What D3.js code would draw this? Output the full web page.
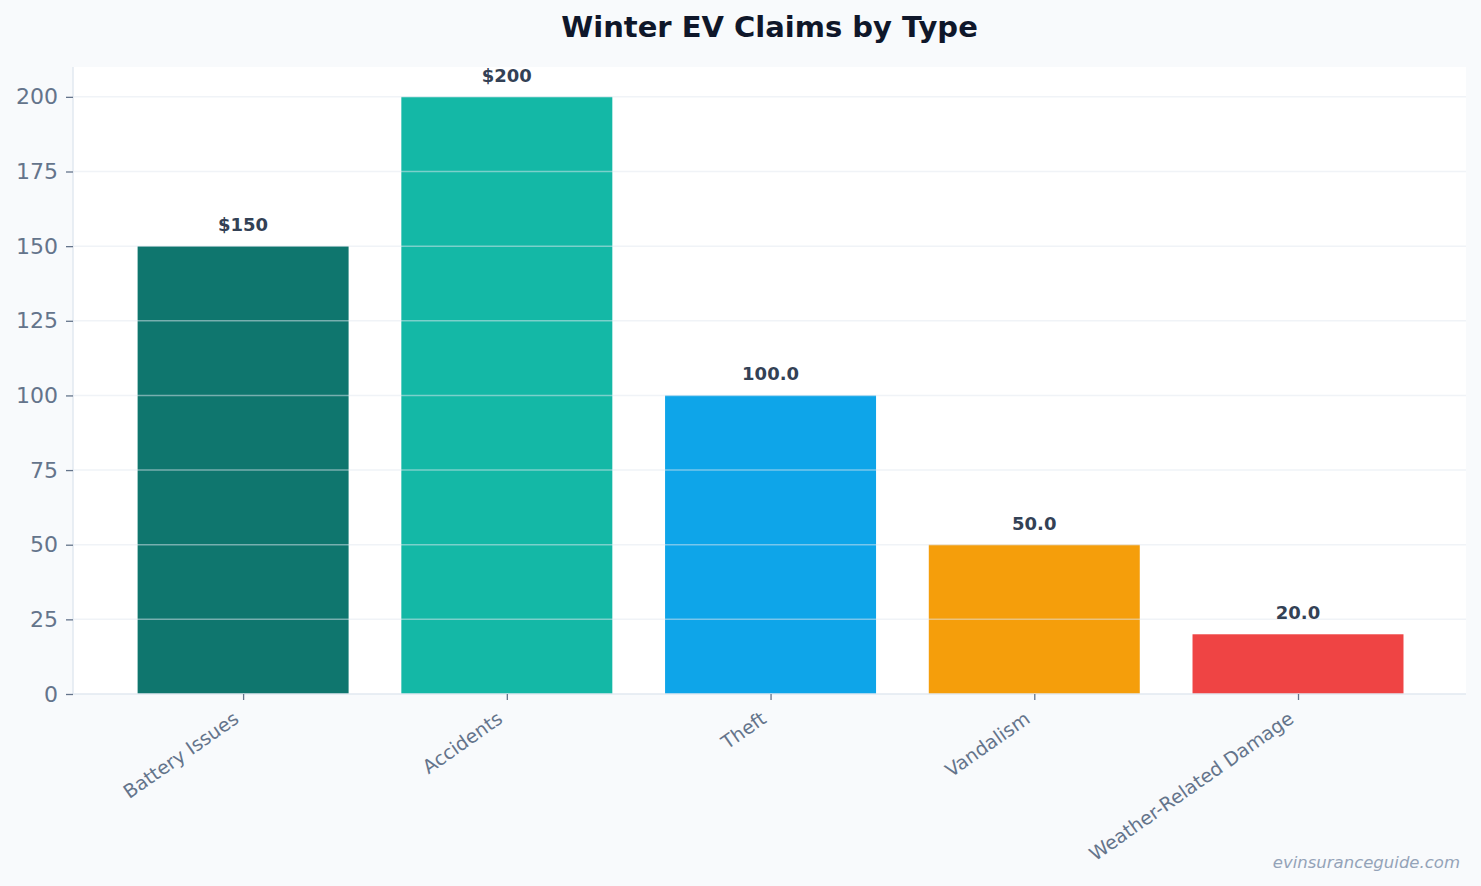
<!DOCTYPE html>
<html><head><meta charset="utf-8">
<script src="https://cdn.jsdelivr.net/npm/d3@7"></script>
<style>body{margin:0;background:#f8fafc;}svg{display:block;font-family:"DejaVu Sans",sans-serif;}</style>
</head><body>
<svg id="c" width="1481" height="886"></svg>
<script>
const categories = ["Battery Issues","Accidents","Theft","Vandalism","Weather-Related Damage"];
const values = [150,200,100,50,20];
const valueLabels = ["$150","$200","100.0","50.0","20.0"];
const colors = ["#0f766e","#14b8a6","#0ea5e9","#f59e0b","#ef4444"];
const yTicks = [0,25,50,75,100,125,150,175,200];

const W=1481,H=886;
const m={l:73,r:15,t:67,b:192};
const svg=d3.select("#c");
svg.append("rect").attr("width",W).attr("height",H).attr("fill","#f8fafc");
const x=d3.scaleLinear().domain([-0.645,4.637]).range([m.l,W-m.r]);
const y=d3.scaleLinear().domain([0,210]).range([H-m.b,m.t]);
svg.append("rect").attr("x",m.l).attr("y",m.t).attr("width",W-m.r-m.l).attr("height",H-m.b-m.t).attr("fill","#ffffff");

const bw=0.8;
svg.append("g").selectAll("rect").data(values).join("rect")
 .attr("x",(d,i)=>x(i-bw/2)).attr("width",(d,i)=>x(i+bw/2)-x(i-bw/2))
 .attr("y",d=>y(d)).attr("height",d=>y(0)-y(d)).attr("fill",(d,i)=>colors[i]);

// grid on top
svg.append("g").selectAll("line").data(yTicks.filter(t=>t>0)).join("line")
 .attr("x1",m.l).attr("x2",W-m.r).attr("y1",d=>y(d)).attr("y2",d=>y(d))
 .attr("stroke","#e2e8f0").attr("stroke-opacity",0.5).attr("stroke-width",1.5);

// y axis
const ya=svg.append("g").attr("transform",`translate(${m.l},0)`)
 .call(d3.axisLeft(y).tickValues(yTicks).tickSize(7).tickPadding(8));
ya.select(".domain").attr("stroke","#e2e8f0").attr("stroke-width",1.5).attr("d",`M0,${m.t}V${y(0)}`);
ya.selectAll(".tick line").attr("stroke","#64748b").attr("stroke-width",1.3);
ya.selectAll(".tick text").attr("fill","#64748b").attr("font-size",22).attr("font-family","DejaVu Sans");

// x axis
const xa=svg.append("g").attr("transform",`translate(0,${y(0)})`)
 .call(d3.axisBottom(x).tickValues(d3.range(categories.length)).tickFormat(i=>categories[i]).tickSize(6).tickPadding(4));
xa.select(".domain").attr("stroke","#e2e8f0").attr("stroke-width",1.5).attr("d",`M${m.l},0H${W-m.r}`);
xa.selectAll(".tick line").attr("stroke","#64748b").attr("stroke-width",1.3);
xa.selectAll(".tick text").attr("fill","#64748b").attr("font-size",19).attr("font-family","DejaVu Sans")
 .attr("text-anchor","end").attr("dy","0.35em").attr("transform","translate(-13,14) rotate(-35)");

// value labels
svg.append("g").selectAll("text").data(values).join("text")
 .attr("x",(d,i)=>x(i)).attr("y",d=>y(d)-15).attr("text-anchor","middle")
 .attr("font-size",18).attr("font-weight","bold").attr("fill","#334155").text((d,i)=>valueLabels[i]);

svg.append("text").attr("x",(m.l+W-m.r)/2).attr("y",37).attr("text-anchor","middle")
 .attr("font-size",29).attr("font-weight","bold").attr("fill","#0f172a").text("Winter EV Claims by Type");

svg.append("text").attr("x",1460).attr("y",868).attr("text-anchor","end")
 .attr("font-size",16.5).attr("font-style","italic").attr("fill","#94a3b8").text("evinsuranceguide.com");
</script>
</body></html>
